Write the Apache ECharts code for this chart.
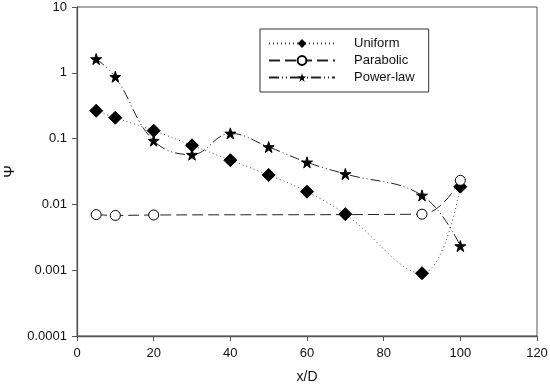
<!DOCTYPE html>
<html><head><meta charset="utf-8">
<script src="https://cdn.jsdelivr.net/npm/echarts@6/dist/echarts.min.js"></script>
<style>html,body{margin:0;padding:0;background:#fff}#c{width:550px;height:390px}</style>
</head><body><div id="c"></div>
<script>
const uniformX = [5, 10, 20, 30, 40, 50, 60, 70, 90, 100];
const uniformY = [0.265, 0.208, 0.132, 0.079, 0.047, 0.028, 0.0156, 0.0071, 0.0009, 0.0186];
const parabolicX = [5, 10, 20, 90, 100];
const parabolicY = [0.0070, 0.0068, 0.0069, 0.0071, 0.0232];
const powerX = [5, 10, 20, 30, 40, 50, 60, 70, 90, 100];
const powerY = [1.62, 0.87, 0.093, 0.057, 0.12, 0.0745, 0.0436, 0.029, 0.0137, 0.00233];
const xTicks = [0, 20, 40, 60, 80, 100, 120];
const yTicks = ['0.0001', '0.001', '0.01', '0.1', '1', '10'];

const pair = (xs, ys) => xs.map((x, i) => [x, ys[i]]);
const star = 'path://M50,0 L61,35 L98,35 L68,57 L79,91 L50,70 L21,91 L32,57 L2,35 L39,35 Z';
const font = 'Liberation Sans, Arial, sans-serif';

const chart = echarts.init(document.getElementById('c'));
chart.setOption({
  animation: false,
  backgroundColor: '#fff',
  textStyle: { fontFamily: font },
  grid: { left: 77, right: 13, top: 7, bottom: 54, show: true, borderColor: '#555', borderWidth: 1,
          containLabel: false, outerBoundsMode: 'none' },
  legend: {
    orient: 'vertical', left: 260, top: 29,
    itemWidth: 66, itemHeight: 11, itemGap: 4,
    padding: [8, 14, 8, 8],
    borderColor: '#333', borderWidth: 1,
    textStyle: { fontFamily: font, fontSize: 13, color: '#111', padding: [0, 0, 0, 14] },
    data: ['Uniform', 'Parabolic', 'Power-law']
  },
  xAxis: {
    type: 'value', min: 0, max: 120, interval: 20,
    name: 'x/D', nameLocation: 'middle', nameGap: 34,
    nameTextStyle: { fontSize: 14, color: '#111', fontFamily: font },
    axisLine: { lineStyle: { color: '#555', width: 1.3 } },
    axisTick: { show: true, inside: false, length: 5, lineStyle: { color: '#555' } },
    axisLabel: { color: '#111', fontSize: 13, margin: 11, formatter: v => xTicks.includes(v) ? String(v) : '' },
    splitLine: { show: false }
  },
  yAxis: {
    type: 'log', logBase: 10, min: 0.0001, max: 10,
    name: 'Ψ', nameLocation: 'middle', nameGap: 60, nameRotate: 90, nameMoveOverlap: false,
    nameTextStyle: { fontSize: 15, color: '#111', fontFamily: font },
    axisLine: { show: true, lineStyle: { color: '#555', width: 1.3 } },
    axisTick: { show: true, inside: false, length: 5, lineStyle: { color: '#555' } },
    axisLabel: { color: '#111', fontSize: 13, margin: 10, formatter: v => {
      const s = yTicks.find(t => Math.abs(Math.log10(parseFloat(t)) - Math.log10(v)) < 1e-6);
      return s || '';
    } },
    minorTick: { show: false },
    splitLine: { show: false }
  },
  series: [
    {
      name: 'Uniform', type: 'line', smooth: 0.4,
      data: pair(uniformX, uniformY),
      symbol: 'diamond', symbolSize: 13,
      itemStyle: { color: '#000', borderColor: '#000' },
      lineStyle: { color: '#444', width: 1, type: [1, 3] }
    },
    {
      name: 'Parabolic', type: 'line', smooth: 0.4,
      data: pair(parabolicX, parabolicY),
      symbol: 'circle', symbolSize: 10,
      itemStyle: { color: '#fff', borderColor: '#000', borderWidth: 1 },
      lineStyle: { color: '#222', width: 1, type: [11, 5] }
    },
    {
      name: 'Power-law', type: 'line', smooth: 0.4,
      data: pair(powerX, powerY),
      symbol: star, symbolSize: 11,
      itemStyle: { color: '#000', borderColor: '#000' },
      lineStyle: { color: '#222', width: 1, type: [10, 3, 1, 3, 1, 3] }
    }
  ]
});
</script></body></html>
